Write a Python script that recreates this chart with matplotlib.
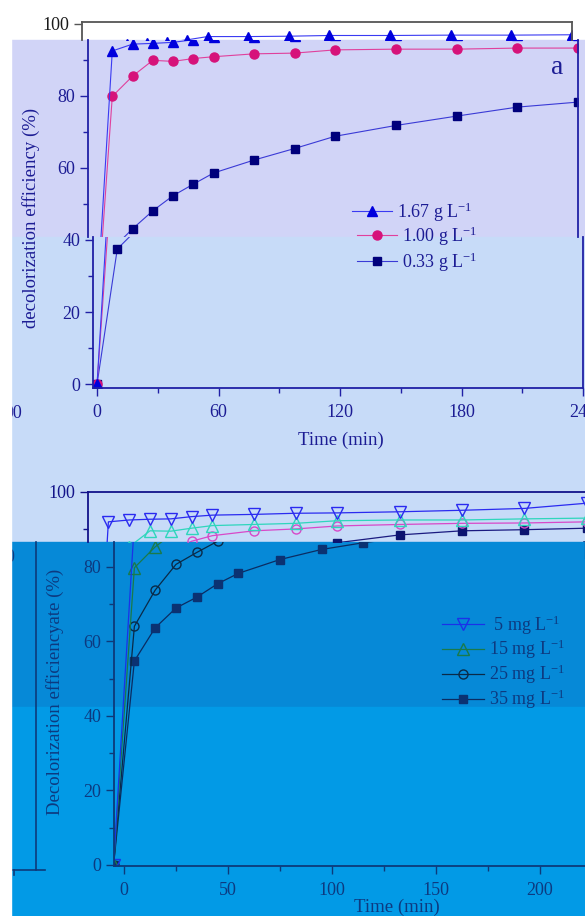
import matplotlib
matplotlib.use("Agg")
import matplotlib.pyplot as plt
from matplotlib.patches import Rectangle
from matplotlib.lines import Line2D
from matplotlib.legend import Legend
from matplotlib.ticker import MultipleLocator

plt.rcParams['font.family'] = ['Liberation Serif', 'DejaVu Serif']
plt.rcParams['mathtext.fontset'] = 'stix'

W, H = 585, 916

# panel a: catalyst dose series
time_a = [0, 10, 20, 30, 40, 50, 60, 80, 100, 120, 150, 180, 210, 240]
eff_167 = [0, 92.5, 94.4, 94.6, 94.9, 95.6, 96.5, 96.5, 96.6, 96.8, 96.8, 96.9, 96.9, 97.0]
eff_100 = [0, 79.9, 85.5, 89.9, 89.6, 90.4, 90.9, 91.7, 91.9, 92.8, 93.0, 93.0, 93.3, 93.3]
eff_033 = [0, 37.5, 43.1, 48.1, 52.3, 55.5, 58.6, 62.2, 65.4, 68.8, 71.8, 74.4, 76.9, 78.3]
labels_a = ["1.67 g L$^{\\mathregular{-1}}$", "1.00 g L$^{\\mathregular{-1}}$",
            "0.33 g L$^{\\mathregular{-1}}$"]

# panel b: dye concentration series
time_b = [-5, 5, 15, 25, 35, 45, 55, 75, 95, 115, 145, 175, 205, 235]
eff_5 = [0, 92.0, 92.5, 92.7, 92.8, 93.4, 93.8, 94.0, 94.3, 94.4, 94.7, 95.1, 95.6, 97.0]
eff_15 = [0, 79.7, 85.3, 89.6, 89.5, 90.3, 91.0, 91.3, 91.6, 92.3, 92.5, 92.5, 92.8, 93.0]
eff_25 = [0, 64.0, 73.7, 80.6, 83.8, 86.8, 88.3, 89.6, 90.1, 90.9, 91.3, 91.6, 91.7, 92.0]
eff_35 = [0, 54.7, 63.6, 68.9, 71.8, 75.4, 78.2, 81.9, 84.6, 86.4, 88.5, 89.6, 89.9, 90.3]
labels_b = [" 5 mg L$^{\\mathregular{-1}}$", "15 mg L$^{\\mathregular{-1}}$",
            "25 mg L$^{\\mathregular{-1}}$", "35 mg L$^{\\mathregular{-1}}$"]

fig = plt.figure(figsize=(W / 100, H / 100), dpi=100)


def fx(x):
    return x / W


def fy(y):
    return 1 - y / H


def px_axes(x0, x1, y0, y1):
    return fig.add_axes([fx(x0), fy(y1), (x1 - x0) / W, (y1 - y0) / H])


def setup(ax, xlim, ylim, spines, color, lab_color, xticks=False, xmajor=60):
    ax.set_xlim(xlim)
    ax.set_ylim(ylim)
    ax.patch.set_alpha(0)
    for s in ['left', 'right', 'top', 'bottom']:
        ax.spines[s].set_visible(s in spines)
        ax.spines[s].set_color(color)
        ax.spines[s].set_linewidth(1.3)
    ax.yaxis.set_major_locator(MultipleLocator(20))
    ax.yaxis.set_minor_locator(MultipleLocator(10))
    ax.xaxis.set_major_locator(MultipleLocator(xmajor))
    ax.xaxis.set_minor_locator(MultipleLocator(xmajor / 2))
    ax.tick_params(which='both', direction='out', colors=color, labelcolor=lab_color,
                   labelsize=13, width=1)
    ax.tick_params(which='major', length=6)
    ax.tick_params(which='minor', length=3.5)
    ax.tick_params(axis='y', which='both', left=True, right=False, pad=3)
    if xticks:
        ax.tick_params(axis='x', which='both', bottom=True, top=False, pad=5.5)
    else:
        ax.tick_params(axis='x', which='both', bottom=False, top=False, labelbottom=False)


def row_legend(ax, hkw, label, x, y, color, hl):
    h = Line2D([], [], **hkw)
    leg = Legend(ax, [h], [label], loc='center left', bbox_to_anchor=(fx(x), fy(y)),
                 bbox_transform=fig.transFigure, frameon=False, borderpad=0,
                 borderaxespad=0, handlelength=hl, handletextpad=0.3, fontsize=13,
                 numpoints=1)
    for t in leg.get_texts():
        t.set_color(color)
    ax.add_artist(leg)


# background bands
bands = [(40, 237, '#d1d4f7'), (237, 542, '#c7dbf8'), (542, 707, '#0689d7'), (707, 916, '#029ae6')]
for y0, y1, c in bands:
    fig.patches.append(Rectangle((fx(11), fy(y1)), fx(585 - 11), (y1 - y0) / H,
                                 transform=fig.transFigure, color=c, zorder=-2))

# ---------- panel a ----------
sa = {'167': dict(color='#3a3af2', lw=0.8, marker='^', ms=7.5, mfc='#0000dd', mec='#0000dd'),
      '100': dict(color='#e0409c', lw=0.8, marker='o', ms=6.5, mfc='#d6127a', mec='#d6127a'),
      '033': dict(color='#3a3ad6', lw=0.8, marker='s', ms=5.5, mfc='#00007c', mec='#00007c')}

navy = '#1c1c94'
ax_lo = px_axes(93, 583, 237.1, 388)
ax_mid = px_axes(88, 578, 39.8, 237.1)
ax_top = px_axes(82, 572, 22.2, 39.8)
setup(ax_lo, (-2, 240), (-1.1, 40.8), ['left', 'bottom', 'right'], '#2020a6', navy, xticks=True)
setup(ax_mid, (-2, 240), (40.8, 95.6), ['left', 'right'], '#2020a6', navy)
setup(ax_top, (-2, 240), (95.6, 100.5), ['left', 'right', 'top'], '#555555', '#1a1a1a')

for ax in (ax_lo, ax_mid, ax_top):
    ax.plot(time_a, eff_033, **sa['033'])
    ax.plot(time_a, eff_100, **sa['100'])
    ax.plot(time_a, eff_167, **sa['167'])

row_legend(ax_mid, sa['167'], labels_a[0], 352, 212, navy, 2.2)
row_legend(ax_lo, sa['100'], labels_a[1], 357, 236, navy, 2.2)
row_legend(ax_lo, sa['033'], labels_a[2], 357, 262, navy, 2.2)

fig.text(fx(557), fy(68), 'a', fontsize=20, color=navy, ha='center', va='center')
fig.text(fx(341), fy(440), 'Time (min)', fontsize=13.5, color=navy, ha='center', va='center')
fig.text(fx(31), fy(218), 'decolorization efficiency (%)', fontsize=13.5, color=navy,
         rotation=90, ha='center', va='center')
fig.text(fx(22), fy(413), '00', fontsize=13, color=navy, ha='right', va='center')

# ---------- panel b ----------
up = {'5': dict(color='#2a2af0', lw=0.9, marker='v', ms=8, mfc='none', mec='#2a2af0'),
      '15': dict(color='#2ed6bc', lw=0.9, marker='^', ms=8, mfc='none', mec='#2ed6bc'),
      '25': dict(color='#d848c8', lw=0.9, marker='o', ms=6.5, mfc='none', mec='#d848c8'),
      '35': dict(color='#1a1a80', lw=0.9, marker='s', ms=5.5, mfc='#0c1470', mec='#0c1470')}
lo = {'5': dict(color='#1a32e8', lw=0.9, marker='v', ms=8, mfc='none', mec='#1a32e8'),
      '15': dict(color='#1a7a4a', lw=0.9, marker='^', ms=8, mfc='none', mec='#1a7a4a'),
      '25': dict(color='#0a2a48', lw=0.9, marker='o', ms=6.5, mfc='none', mec='#0a2a48'),
      '35': dict(color='#0b2c62', lw=0.9, marker='s', ms=5.5, mfc='#0b3272', mec='#0b3272')}

dark = '#0d3a80'
ax_b = px_axes(114, 585, 542, 866)
ax_bu = px_axes(88, 585, 492, 542)
setup(ax_b, (-4.8, 221.6), (-0.27, 86.6), ['left', 'bottom'], '#0d3a7a', dark, xticks=True, xmajor=50)
setup(ax_bu, (-4.8, 234.1), (86.6, 100), ['left', 'top'], '#12128a', '#14148a', xmajor=50)

series_b = [('35', eff_35), ('25', eff_25), ('15', eff_15), ('5', eff_5)]
for key, vals in series_b:
    ax_b.plot(time_b, vals, **lo[key])
    ax_bu.plot(time_b, vals, **up[key])

for i, key in enumerate(['5', '15', '25', '35']):
    row_legend(ax_b, lo[key], labels_b[i], 442, 625 + 24.7 * i, dark, 2.3)

fig.text(fx(590), fy(553), 'b', fontsize=20, color=dark, ha='center', va='center')
fig.text(fx(397), fy(907), 'Time (min)', fontsize=13.5, color=dark, ha='center', va='center')
fig.text(fx(55), fy(692), 'Decolorization efficiencyate (%)', fontsize=13.5, color=dark,
         rotation=90, ha='center', va='center')
fig.text(fx(14), fy(558), '0', fontsize=13, color=dark, ha='right', va='center')

# stray frame pieces in the lower band
for xs, ys in [([35.5, 35.5], [542, 870]), ([11, 45], [870, 870]), ([13.5, 13.5], [870, 875])]:
    fig.add_artist(Line2D([fx(v) for v in xs], [fy(v) for v in ys], transform=fig.transFigure,
                          color='#0d3a7a', lw=1.2))

# white margin on the left
fig.patches.append(Rectangle((0, 0), fx(11), 1, transform=fig.transFigure, color='white', zorder=10))

fig.savefig('out.png', dpi=100)
